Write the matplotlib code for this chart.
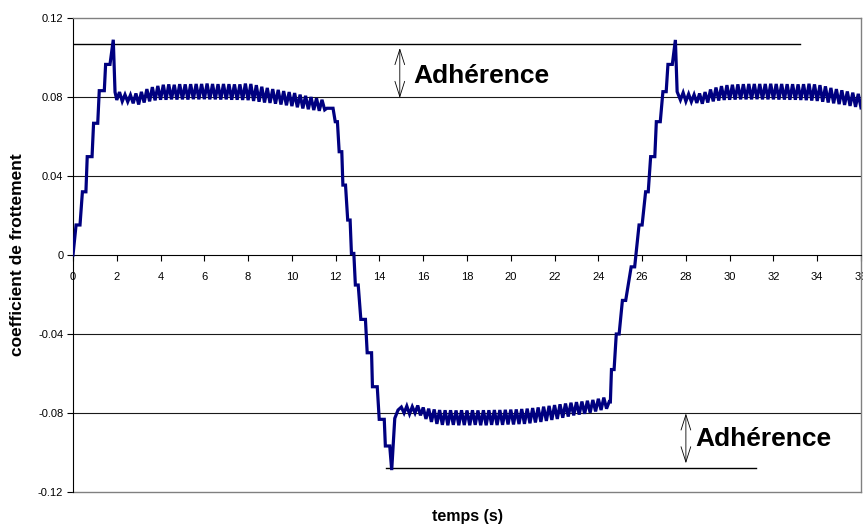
import numpy as np
import matplotlib
matplotlib.use("Agg")
import matplotlib.pyplot as plt
from matplotlib.lines import Line2D

plt.rcParams['font.family'] = ['Liberation Sans', 'DejaVu Sans']

# --- donnees --------------------------------------------------------------
DT = 0.125  # pas d'echantillonnage des paliers oscillants (s)

# montee initiale (t, coefficient)
ramp1_t = [0, 0.14, 0.32, 0.43, 0.59, 0.65, 0.87, 0.94, 1.13, 1.2, 1.43,
           1.49, 1.69, 1.84, 1.92]
ramp1_v = [0, 0.0152, 0.0152, 0.032, 0.032, 0.0498, 0.0498, 0.0667, 0.0667,
           0.0832, 0.0832, 0.0965, 0.0965, 0.109, 0.0825]

# palier haut 1 : debut 2.0 s
plateau1_t0 = 2.0
plateau1_v = [
    0.0785, 0.0825, 0.0778, 0.0812, 0.0776, 0.0810, 0.0768, 0.0818,
    0.0762, 0.0826, 0.0772, 0.0840, 0.0778, 0.0850, 0.0783, 0.0856,
    0.0786, 0.0862, 0.0786, 0.0864, 0.0788, 0.0862, 0.0787, 0.0865,
    0.0788, 0.0864, 0.0787, 0.0865, 0.0789, 0.0866, 0.0788, 0.0866,
    0.0789, 0.0868, 0.0788, 0.0866, 0.0788, 0.0865, 0.0787, 0.0866,
    0.0788, 0.0865, 0.0786, 0.0864, 0.0786, 0.0864, 0.0785, 0.0868,
    0.0784, 0.0866, 0.0780, 0.0860, 0.0776, 0.0852, 0.0772, 0.0846,
    0.0770, 0.0840, 0.0766, 0.0836, 0.0762, 0.0830, 0.0758, 0.0825,
    0.0754, 0.0820, 0.0748, 0.0812, 0.0742, 0.0806, 0.0738, 0.0800,
    0.0734, 0.0794, 0.0730, 0.0786, 0.0735,
]

# descente (inversion du sens)
ramp2_t = [11.6, 11.88, 11.98, 12.08, 12.16, 12.28, 12.33, 12.45, 12.55,
           12.66, 12.72, 12.83, 12.9, 13.03, 13.15, 13.36, 13.44, 13.64,
           13.68, 13.9, 13.99, 14.22, 14.27, 14.47, 14.56, 14.7, 14.85]
ramp2_v = [0.0743, 0.0743, 0.0675, 0.0675, 0.0523, 0.0523, 0.0354, 0.0354,
           0.0177, 0.0177, 0.0008, 0.0008, -0.0152, -0.0152, -0.0326,
           -0.0326, -0.0495, -0.0495, -0.0667, -0.0667, -0.0832, -0.0832,
           -0.0967, -0.0967, -0.1089, -0.0827, -0.0785]

# palier bas : debut 15.0 s
plateau2_t0 = 15.0
plateau2_v = [
    -0.0770, -0.0800, -0.0765, -0.0805, -0.0768, -0.0800, -0.0762, -0.0812,
    -0.0772, -0.0830, -0.0778, -0.0845, -0.0782, -0.0855, -0.0785, -0.0860,
    -0.0786, -0.0862, -0.0786, -0.0860, -0.0787, -0.0862, -0.0786, -0.0861,
    -0.0787, -0.0862, -0.0786, -0.0860, -0.0787, -0.0862, -0.0786, -0.0862,
    -0.0786, -0.0860, -0.0785, -0.0861, -0.0785, -0.0860, -0.0784, -0.0858,
    -0.0783, -0.0858, -0.0782, -0.0856, -0.0780, -0.0855, -0.0778, -0.0852,
    -0.0775, -0.0848, -0.0772, -0.0845, -0.0768, -0.0840, -0.0764, -0.0835,
    -0.0760, -0.0830, -0.0756, -0.0824, -0.0752, -0.0818, -0.0748, -0.0812,
    -0.0745, -0.0808, -0.0742, -0.0804, -0.0738, -0.0798, -0.0734, -0.0792,
    -0.0728, -0.0785, -0.0722, -0.0778, -0.0742,
]

# remontee
ramp3_t = [24.55, 24.6, 24.72, 24.82, 24.95, 25.1, 25.25, 25.5, 25.66,
           25.86, 26.0, 26.16, 26.28, 26.39, 26.58, 26.65, 26.83, 26.95,
           27.1, 27.18, 27.38, 27.52, 27.6]
ramp3_v = [-0.0743, -0.058, -0.058, -0.040, -0.040, -0.023, -0.023, -0.006,
           -0.006, 0.0152, 0.0152, 0.032, 0.032, 0.0498, 0.0498, 0.0675,
           0.0675, 0.0827, 0.0827, 0.0965, 0.0965, 0.1089, 0.0827]

# palier haut 2 : debut 27.75 s
plateau3_t0 = 27.75
plateau3_v = [
    0.0785, 0.0822, 0.0778, 0.0815, 0.0776, 0.0812, 0.0770, 0.0818,
    0.0766, 0.0825, 0.0772, 0.0838, 0.0778, 0.0848, 0.0782, 0.0855,
    0.0785, 0.0860, 0.0786, 0.0862, 0.0787, 0.0864, 0.0788, 0.0865,
    0.0788, 0.0866, 0.0788, 0.0866, 0.0789, 0.0866, 0.0788, 0.0866,
    0.0788, 0.0867, 0.0788, 0.0866, 0.0787, 0.0866, 0.0787, 0.0865,
    0.0786, 0.0865, 0.0786, 0.0864, 0.0785, 0.0865, 0.0784, 0.0867,
    0.0782, 0.0864, 0.0780, 0.0860, 0.0776, 0.0854, 0.0772, 0.0846,
    0.0768, 0.0840, 0.0764, 0.0834, 0.0760, 0.0828, 0.0755, 0.0822,
    0.0750, 0.0816, 0.0745,
]

# niveaux d'adherence (traits horizontaux) et fleches
adh_haut = 0.1068
adh_haut_t = [0, 33.2]
adh_bas = -0.108
adh_bas_t = [14.3, 31.2]

y_ticks = [-0.12, -0.08, -0.04, 0, 0.04, 0.08, 0.12]
y_labels = ["-0.12", "-0.08", "-0.04", "0", "0.04", "0.08", "0.12"]
x_ticks = list(range(0, 37, 2))


def plateau_t(t0, vals):
    return list(t0 + DT * np.arange(len(vals)))


t = (ramp1_t + plateau_t(plateau1_t0, plateau1_v) + ramp2_t
     + plateau_t(plateau2_t0, plateau2_v) + ramp3_t
     + plateau_t(plateau3_t0, plateau3_v))
v = ramp1_v + plateau1_v + ramp2_v + plateau2_v + ramp3_v + plateau3_v

# --- figure ---------------------------------------------------------------
W, H = 863, 526
fig = plt.figure(figsize=(W / 100, H / 100), dpi=100)
ax = fig.add_axes([73 / W, 1 - 492 / H, 788 / W, 474 / H])

ax.set_xlim(0, 36)
ax.set_ylim(-0.12, 0.12)

for yt in y_ticks[1:-1]:
    if yt != 0:
        ax.axhline(yt, color="#1a1a1a", lw=0.8, zorder=1)

ax.plot(t, v, color="#000080", lw=2.3, solid_joinstyle="miter", zorder=3)

ax.plot(adh_haut_t, [adh_haut, adh_haut], color="black", lw=1.0, zorder=2)
ax.plot(adh_bas_t, [adh_bas, adh_bas], color="black", lw=1.0, zorder=2)

arrow = dict(arrowstyle="<->,head_length=1.1,head_width=0.35", lw=0.6,
             color="black", shrinkA=0, shrinkB=0)
ax.annotate("", xy=(14.93, 0.1048), xytext=(14.93, 0.0795), arrowprops=arrow)
ax.annotate("", xy=(28.0, -0.0802), xytext=(28.0, -0.1055), arrowprops=arrow)
ax.text(15.55, 0.0905, "Adhérence", fontsize=19, fontweight="bold",
        va="center", ha="left")
ax.text(28.45, -0.0932, "Adhérence", fontsize=19, fontweight="bold",
        va="center", ha="left")

# axes facon tableur : axe des x a y = 0, cadre gris
ax.spines["bottom"].set_position(("data", 0))
ax.spines["bottom"].set_color("black")
ax.spines["bottom"].set_linewidth(0.8)
ax.spines["left"].set_color("black")
ax.spines["left"].set_linewidth(0.8)
for s in ("top", "right"):
    ax.spines[s].set_color("#808080")
    ax.spines[s].set_linewidth(1.0)
ax.add_line(Line2D([0, 1], [0, 0], transform=ax.transAxes, color="#808080",
                   lw=1.0, clip_on=False))

ax.set_yticks(y_ticks)
ax.set_yticklabels(y_labels)
ax.set_xticks(x_ticks)
ax.set_xticklabels([str(x) for x in x_ticks])
ax.tick_params(axis="y", direction="out", length=4, width=0.8, labelsize=8,
               pad=3)
ax.tick_params(axis="x", direction="out", length=4, width=0.8, labelsize=8,
               pad=8)
for lab in ax.get_xticklabels():
    lab.set_clip_on(False)

fig.text(18 / W, 1 - 255 / H, "coefficient de frottement", rotation=90,
         fontsize=12.5, fontweight="bold", ha="center", va="center")
fig.text(467 / W, 1 - 516 / H, "temps (s)", fontsize=11.5, fontweight="bold",
         ha="center", va="center")

fig.savefig("out.png", dpi=100)
